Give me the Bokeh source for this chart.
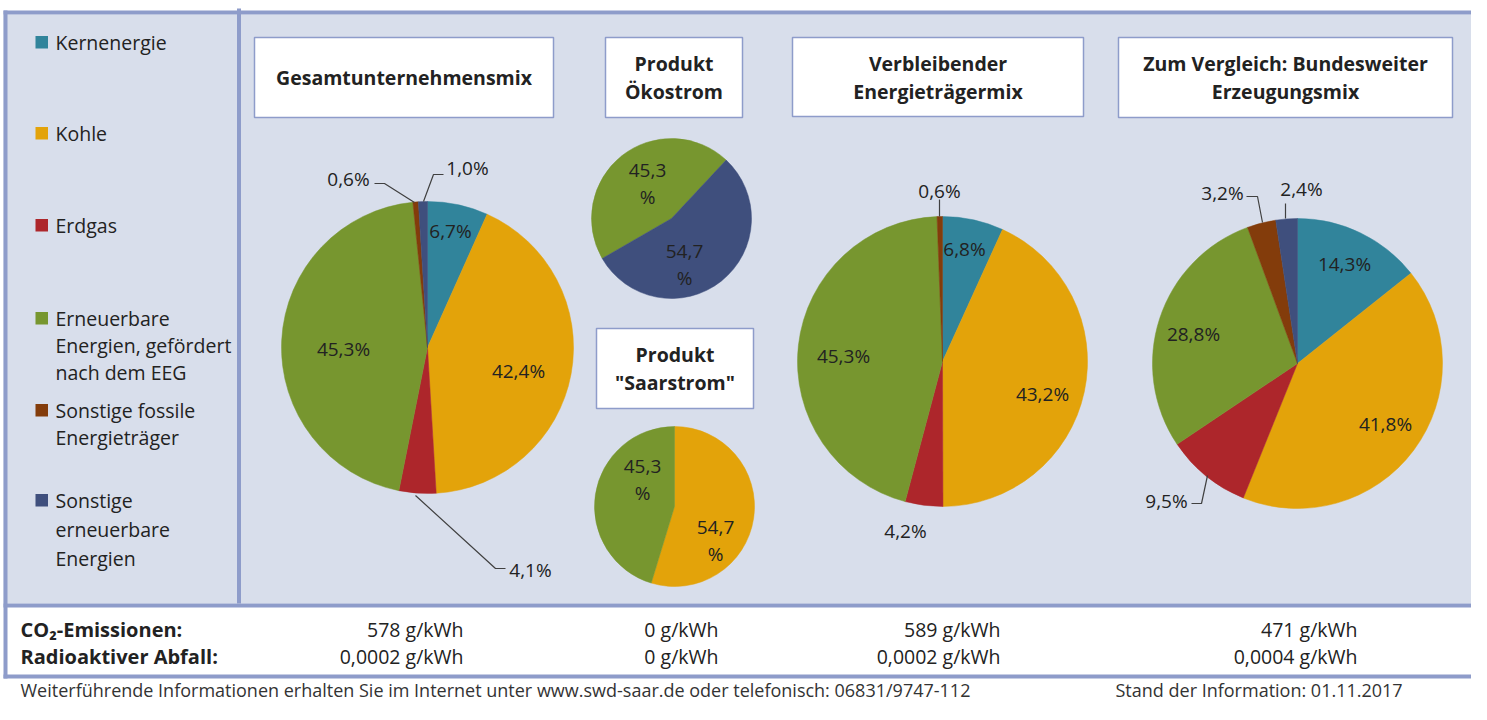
import math
from bokeh.plotting import figure
from bokeh.models import Range1d
from bokeh.embed import file_html
from bokeh.resources import INLINE
from bokeh.core.properties import value

# ---------------- data ----------------
categories = ["Kernenergie", "Kohle", "Erdgas",
              "Erneuerbare Energien, gefördert nach dem EEG",
              "Sonstige fossile Energieträger",
              "Sonstige erneuerbare Energien"]
legend_lines = [["Kernenergie"], ["Kohle"], ["Erdgas"],
                ["Erneuerbare", "Energien, gefördert", "nach dem EEG"],
                ["Sonstige fossile", "Energieträger"],
                ["Sonstige", "erneuerbare", "Energien"]]
colors = ["#31849b", "#e3a30a", "#ad262b", "#77962f", "#833c0b", "#3f4f7d"]

gesamt = [6.7, 42.4, 4.1, 45.3, 0.6, 1.0]
oekostrom = [0, 0, 0, 45.3, 0, 54.7]
saarstrom = [0, 54.7, 0, 45.3, 0, 0]
verbleibend = [6.8, 43.2, 4.2, 45.3, 0.6, 0]
bundesweit = [14.3, 41.8, 9.5, 28.8, 3.2, 2.4]

titles = [["Gesamtunternehmensmix"], ["Produkt", "Ökostrom"], ["Produkt", "\"Saarstrom\""],
          ["Verbleibender", "Energieträgermix"], ["Zum Vergleich: Bundesweiter", "Erzeugungsmix"]]
row_labels = ["CO\u2082-Emissionen:", "Radioaktiver Abfall:"]
co2 = ["578 g/kWh", "0 g/kWh", "589 g/kWh", "471 g/kWh"]
radio = ["0,0002 g/kWh", "0 g/kWh", "0,0002 g/kWh", "0,0004 g/kWh"]
footer_left = "Weiterführende Informationen erhalten Sie im Internet unter www.swd-saar.de oder telefonisch: 06831/9747-112"
footer_right = "Stand der Information: 01.11.2017"

# ---------------- layout ----------------
W, H = 1471, 704
def fy(y):
    return H - y

FONT = value("Open Sans")
LINE = "#8e9cca"
PANEL = "#d8deeb"
TXT = "#222222"

p = figure(width=W, height=H, x_range=Range1d(0, W), y_range=Range1d(0, H),
           output_backend="svg", toolbar_location=None, min_border=0)
p.axis.visible = False
p.grid.visible = False
p.outline_line_color = None
p.background_fill_color = "white"
p.border_fill_color = "white"

# panel + frame lines
p.quad(left=[3], right=[W], top=[fy(14)], bottom=[fy(603)], fill_color=PANEL, line_color=None)
frame_l = [3, 3, 3, 236.5, 3]
frame_r = [W, W, W, 240.5, 7]
frame_t = [fy(10), fy(603), fy(674), fy(8), fy(10)]
frame_b = [fy(14), fy(607), fy(678), fy(603), fy(678)]
p.quad(left=frame_l, right=frame_r, top=frame_t, bottom=frame_b, fill_color=LINE, line_color=None)

# legend
leg_y = [42, 133, 225, 318, 410, 500]
for i, lines in enumerate(legend_lines):
    y0 = leg_y[i]
    p.quad(left=[35], right=[47.5], top=[fy(y0 - 6.5)], bottom=[fy(y0 + 6)],
           fill_color=colors[i], line_color=None)
    step = 27 if i != 5 else 29
    ys = [fy(y0 + k * step) for k in range(len(lines))]
    p.text(x=[55] * len(lines), y=ys, text=lines, text_font=FONT, text_font_size="19.5px",
           text_align="left", text_baseline="middle", text_color=TXT)

# title boxes
boxes = [(254, 553, 37, 117), (605, 742, 37, 117), (596, 753, 328, 408),
         (792, 1083, 37, 116), (1118, 1452, 37, 117)]
for (l, r, t, b), lines in zip(boxes, titles):
    p.quad(left=[l], right=[r], top=[fy(t)], bottom=[fy(b)], fill_color="white",
           line_color=LINE, line_width=1.5)
    cx = (l + r) / 2
    cy = (t + b) / 2
    n = len(lines)
    ys = [fy(cy + (k - (n - 1) / 2) * 28) for k in range(n)]
    p.text(x=[cx] * n, y=ys, text=lines, text_font=FONT, text_font_size="19.5px",
           text_font_style="bold", text_align="center", text_baseline="middle", text_color=TXT)

def fmt(v):
    return f"{v:.1f}".replace(".", ",")

def draw_pie(vals, cx, cy, r, rot=0.0):
    tot = sum(vals)
    c = rot
    for v, col in zip(vals, colors):
        if v <= 0:
            continue
        a0 = math.pi / 2 - 2 * math.pi * c
        c += v / tot
        a1 = math.pi / 2 - 2 * math.pi * c
        p.wedge(x=[cx], y=[fy(cy)], radius=r, start_angle=a0, end_angle=a1,
                direction="clock", fill_color=col, line_color=col, line_width=0.5)

pies = [(gesamt, 427, 347, 146, 0.0),
        (oekostrom, 671, 218, 80, 240 / 360),
        (saarstrom, 674, 506, 80, 0.0),
        (verbleibend, 942, 361, 145, 0.0),
        (bundesweit, 1297, 363, 145, 0.0)]
for vals, cx, cy, r, rot in pies:
    draw_pie(vals, cx, cy, r, rot)

# data labels: (pie data, category index, x, y)
labels = [(gesamt, 0, 450, 230), (gesamt, 1, 518, 370), (gesamt, 2, 530, 569),
          (gesamt, 3, 343, 348), (gesamt, 4, 348, 178), (gesamt, 5, 467, 167),
          (verbleibend, 0, 964, 248), (verbleibend, 1, 1042, 393), (verbleibend, 2, 905, 530),
          (verbleibend, 3, 843, 355), (verbleibend, 4, 939, 190),
          (bundesweit, 0, 1344, 263), (bundesweit, 1, 1385, 423), (bundesweit, 2, 1166, 500),
          (bundesweit, 3, 1193, 333), (bundesweit, 4, 1222, 192), (bundesweit, 5, 1301, 188)]
p.text(x=[l[2] for l in labels], y=[fy(l[3]) for l in labels],
       text=[fmt(l[0][l[1]]) + "%" for l in labels], text_font=FONT, text_font_size="19px",
       text_align="center", text_baseline="middle", text_color=TXT)

# two-line labels in the small pies
small = [(oekostrom, 3, 647, 170), (oekostrom, 5, 684, 251),
         (saarstrom, 3, 642, 466), (saarstrom, 1, 715, 527)]
p.text(x=[s[2] for s in small] * 2, y=[fy(s[3]) for s in small] + [fy(s[3] + 26) for s in small],
       text=[fmt(s[0][s[1]]) for s in small] + ["%"] * len(small), text_font=FONT,
       text_font_size="19px", text_align="center", text_baseline="middle", text_color=TXT)

# leader lines
lx = [[415, 495, 505], [374, 384, 414], [443, 433, 423], [939, 939],
      [1191, 1201, 1207], [1246, 1257, 1262], [1285, 1285]]
ly = [[495, 568, 568], [183, 183, 202], [174, 174, 201], [199, 216],
      [503, 503, 475], [196, 196, 222], [203, 218]]
p.multi_line(xs=lx, ys=[[fy(v) for v in seg] for seg in ly], line_color="#404040", line_width=1.2)

# bottom rows
p.text(x=[20, 20], y=[fy(629), fy(656)], text=row_labels, text_font=FONT, text_font_size="20px",
       text_font_style="bold", text_align="left", text_baseline="middle", text_color=TXT)
col_right = [463, 718, 1000, 1357]
p.text(x=col_right, y=[fy(629)] * 4, text=co2, text_font=FONT, text_font_size="19.5px",
       text_align="right", text_baseline="middle", text_color=TXT)
p.text(x=col_right, y=[fy(656)] * 4, text=radio, text_font=FONT, text_font_size="19.5px",
       text_align="right", text_baseline="middle", text_color=TXT)

# footer
p.text(x=[20], y=[fy(689)], text=[footer_left], text_font=FONT, text_font_size="18px",
       text_align="left", text_baseline="middle", text_color="#333333")
p.text(x=[1115], y=[fy(689)], text=[footer_right], text_font=FONT, text_font_size="18px",
       text_align="left", text_baseline="middle", text_color="#333333")

open("out.html", "w").write(file_html(p, INLINE))
